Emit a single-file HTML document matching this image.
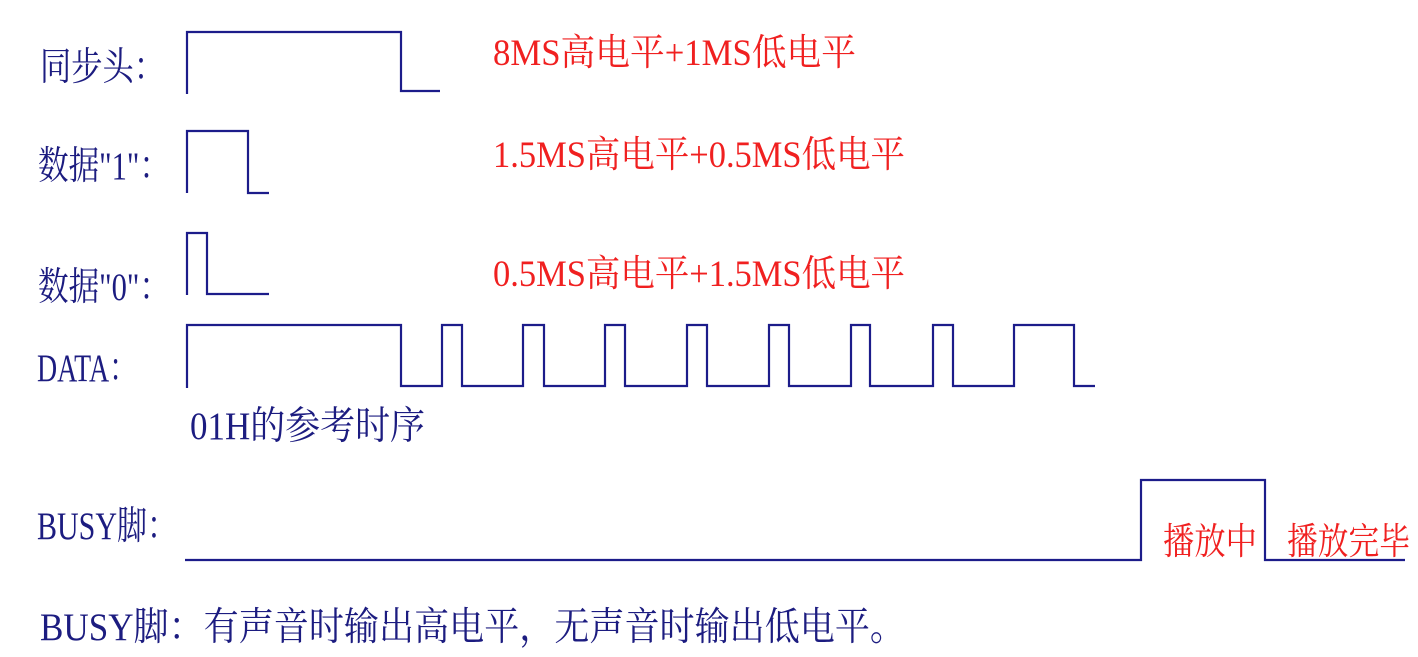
<!DOCTYPE html>
<html><head><meta charset="utf-8"><style>
html,body{margin:0;padding:0;background:#fff;}
svg{display:block;}
.b{fill:#1c1c80;font-family:"Liberation Serif","Noto Serif CJK SC",serif;font-size:39px;}
.r{fill:#f02020;font-family:"Liberation Serif","Noto Serif CJK SC",serif;font-size:37px;}
path{fill:none;stroke:#1c1c8a;stroke-width:2.2;}
</style></head><body>
<svg width="1418" height="657" viewBox="0 0 1418 657">
<path d="M187 94 V32 H401 V91 H440"/>
<path d="M187 193 V131 H248 V193 H269"/>
<path d="M187 295 V233 H207 V294 H269"/>
<path d="M187 388 V325 H401 V386 H442 V325 H462 V386 H523 V325 H544 V386 H605 V325 H625 V386 H687 V325 H707 V386 H769 V325 H789 V386 H851 V325 H870 V386 H933 V325 H953 V386 H1014 V325 H1074 V386 H1095"/>
<path d="M185 560 H1141 V480 H1265 V560 H1405"/>
<text class="b" x="40" y="80" textLength="125" lengthAdjust="spacingAndGlyphs">同步头：</text>
<text class="b" x="38" y="179" textLength="132" lengthAdjust="spacingAndGlyphs">数据"1"：</text>
<text class="b" x="38" y="300" textLength="132" lengthAdjust="spacingAndGlyphs">数据"0"：</text>
<text class="b" x="37" y="381" textLength="100" lengthAdjust="spacingAndGlyphs">DATA：</text>
<text class="b" x="190" y="439" textLength="235" lengthAdjust="spacingAndGlyphs">01H的参考时序</text>
<text class="b" x="37" y="539" textLength="140" lengthAdjust="spacingAndGlyphs">BUSY脚：</text>
<text class="b" x="40" y="640" textLength="865" lengthAdjust="spacingAndGlyphs">BUSY脚：有声音时输出高电平，无声音时输出低电平。</text>
<text class="r" x="493" y="65" textLength="363" lengthAdjust="spacingAndGlyphs">8MS高电平+1MS低电平</text>
<text class="r" x="493" y="167" textLength="412" lengthAdjust="spacingAndGlyphs">1.5MS高电平+0.5MS低电平</text>
<text class="r" x="493" y="286" textLength="412" lengthAdjust="spacingAndGlyphs">0.5MS高电平+1.5MS低电平</text>
<text class="r" x="1163" y="554" textLength="94" lengthAdjust="spacingAndGlyphs">播放中</text>
<text class="r" x="1287" y="554" textLength="123" lengthAdjust="spacingAndGlyphs">播放完毕</text>
</svg>
</body></html>
